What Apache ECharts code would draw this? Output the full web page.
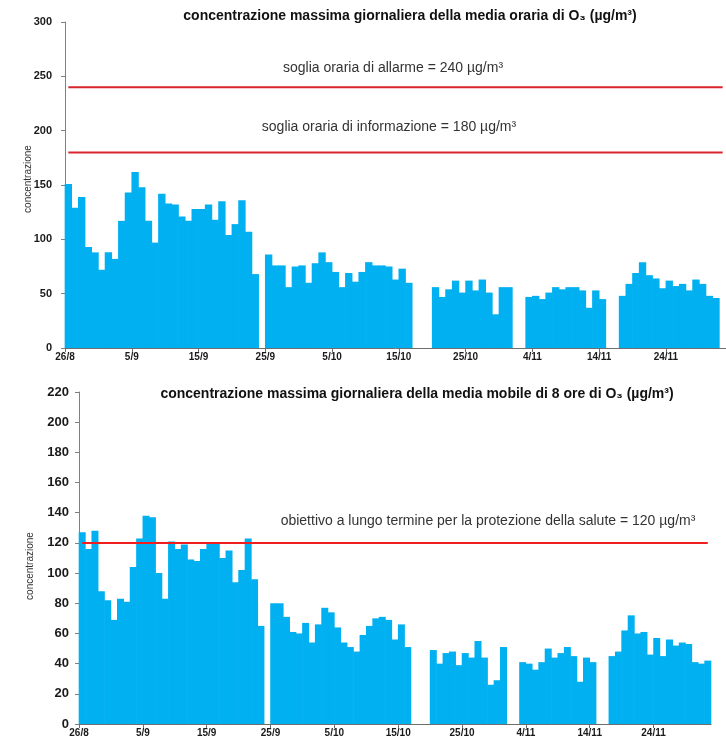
<!DOCTYPE html>
<html>
<head>
<meta charset="utf-8">
<script src="https://cdn.jsdelivr.net/npm/echarts@6/dist/echarts.min.js"></script>
<style>
html,body{margin:0;padding:0;background:#ffffff;}
#chart{width:726px;height:744px;}
</style>
</head>
<body>
<div id="chart"></div>
<script>
// ---- data (day index 0 = 26/8) ----
const dayTickLabels = ['26/8','5/9','15/9','25/9','5/10','15/10','25/10','4/11','14/11','24/11'];

// daily maximum of hourly mean O3 (µg/m³); null = no data
const hourlyMax = [
  151,129,139,93,88,72,88,82,117,143,
  162,148,117,97,142,133,132,121,117,128,
  128,132,118,135,104,114,136,107,68,null,
  86,76,76,56,75,76,60,78,88,79,
  70,56,69,61,70,79,76,76,75,63,
  73,60,null,null,null,56,47,54,62,51,
  62,53,63,51,31,56,56,null,null,47,
  48,45,51,56,54,56,56,53,37,53,
  45,null,null,48,59,69,79,67,64,55,
  62,57,59,53,63,59,48,46,null
];

// daily maximum of 8-hour moving mean O3 (µg/m³); null = no data
const eightHourMax = [
  127,116,128,88,82,69,83,81,104,123,
  138,137,100,83,121,116,119,109,108,116,
  120,120,110,115,94,102,123,96,65,null,
  80,80,71,61,60,67,54,66,77,74,
  64,54,51,48,59,65,70,71,69,56,
  66,51,null,null,null,49,40,47,48,39,
  47,44,55,44,26,29,51,null,null,41,
  40,36,41,50,44,47,51,45,28,44,
  41,null,null,45,48,62,72,60,61,46,
  57,45,56,52,54,53,41,40,42
];

const alarmThreshold = 240;
const infoThreshold = 180;
const longTermObjective = 120;

const topYTicks = { min: 0, max: 300, interval: 50 };
const bottomYTicks = { min: 0, max: 220, interval: 20 };

// ---- build ----
const FONT = '"Liberation Sans", Arial, sans-serif';
const W = 726, H = 744;
const nDays = hourlyMax.length;
const tickValues = dayTickLabels.map((_, i) => i * 10);

const gridTop = { left: 65, top: 22, right: -8, bottom: 396 };
const gridBottom = { left: 79, top: 392, right: 15, bottom: 20 };
const dayWidthTop = (W - gridTop.left - gridTop.right) / nDays;
const dayWidthBottom = (W - gridBottom.left - gridBottom.right) / nDays;

function toBarData(arr) {
  const out = [];
  arr.forEach((v, i) => { if (v !== null) out.push([i + 0.5, v]); });
  return out;
}
function thresholdLine(v) {
  return [[0.5, v], [nDays - 0.5, v]];
}

function xAxisCfg(gridIndex, fs) {
  return {
    type: 'value', gridIndex: gridIndex, min: 0, max: nDays, interval: 10,
    axisLine: { show: true, lineStyle: { color: '#6e6e6e', width: 1 } },
    axisTick: { show: true, length: 4, customValues: tickValues, lineStyle: { color: '#6e6e6e' } },
    axisLabel: {
      customValues: tickValues,
      formatter: function (v) { return dayTickLabels[Math.round(v / 10)] || ''; },
      fontFamily: FONT, fontSize: fs, fontWeight: 'bold', color: '#1a1a1a', margin: 4
    },
    splitLine: { show: false }
  };
}
function yAxisCfg(gridIndex, ticks, fs, margin) {
  return {
    type: 'value', gridIndex: gridIndex, min: ticks.min, max: ticks.max, interval: ticks.interval,
    axisLine: { show: true, lineStyle: { color: '#808080', width: 1 } },
    axisTick: { show: true, length: 4, lineStyle: { color: '#808080' } },
    axisLabel: { fontFamily: FONT, fontSize: fs, fontWeight: 'bold', color: '#1a1a1a', margin: margin },
    splitLine: { show: false }
  };
}

const chart = echarts.init(document.getElementById('chart'), null, { renderer: 'canvas' });

const option = {
  animation: false,
  backgroundColor: '#ffffff',
  grid: [ gridTop, gridBottom ],
  xAxis: [ xAxisCfg(0, 10), xAxisCfg(1, 10) ],
  yAxis: [ yAxisCfg(0, topYTicks, 11, 13), yAxisCfg(1, bottomYTicks, 13, 10) ],
  series: [
    { type: 'bar', xAxisIndex: 0, yAxisIndex: 0, data: toBarData(hourlyMax),
      barWidth: dayWidthTop + 0.6, itemStyle: { color: '#00b0f0' } },
    { type: 'line', xAxisIndex: 0, yAxisIndex: 0, data: thresholdLine(alarmThreshold),
      symbol: 'none', lineStyle: { color: '#d9262e', width: 2 } },
    { type: 'line', xAxisIndex: 0, yAxisIndex: 0, data: thresholdLine(infoThreshold),
      symbol: 'none', lineStyle: { color: '#d9262e', width: 2 } },
    { type: 'bar', xAxisIndex: 1, yAxisIndex: 1, data: toBarData(eightHourMax),
      barWidth: dayWidthBottom + 0.6, itemStyle: { color: '#00b0f0' } },
    { type: 'line', xAxisIndex: 1, yAxisIndex: 1, data: thresholdLine(longTermObjective),
      symbol: 'none', lineStyle: { color: '#f01e1e', width: 2 } }
  ],
  graphic: [
    { type: 'text', x: 410, y: 16, style: { text: 'concentrazione massima giornaliera della media oraria di O₃ (µg/m³)',
      textAlign: 'center', textVerticalAlign: 'middle', font: 'bold 14px ' + FONT, fill: '#111111' } },
    { type: 'text', x: 393, y: 68, style: { text: 'soglia oraria di allarme = 240 µg/m³',
      textAlign: 'center', textVerticalAlign: 'middle', font: '14px ' + FONT, fill: '#333333' } },
    { type: 'text', x: 389, y: 127, style: { text: 'soglia oraria di informazione = 180 µg/m³',
      textAlign: 'center', textVerticalAlign: 'middle', font: '14px ' + FONT, fill: '#333333' } },
    { type: 'text', x: 28, y: 179, rotation: Math.PI / 2, style: { text: 'concentrazione',
      textAlign: 'center', textVerticalAlign: 'middle', font: '10px ' + FONT, fill: '#333333' } },
    { type: 'text', x: 417, y: 394, style: { text: 'concentrazione massima giornaliera della media mobile di 8 ore di O₃ (µg/m³)',
      textAlign: 'center', textVerticalAlign: 'middle', font: 'bold 14px ' + FONT, fill: '#111111' } },
    { type: 'text', x: 488, y: 521, style: { text: 'obiettivo a lungo termine per la protezione della salute = 120 µg/m³',
      textAlign: 'center', textVerticalAlign: 'middle', font: '14px ' + FONT, fill: '#333333' } },
    { type: 'text', x: 30, y: 566, rotation: Math.PI / 2, style: { text: 'concentrazione',
      textAlign: 'center', textVerticalAlign: 'middle', font: '10px ' + FONT, fill: '#333333' } }
  ]
};
chart.setOption(option);
</script>
</body>
</html>
